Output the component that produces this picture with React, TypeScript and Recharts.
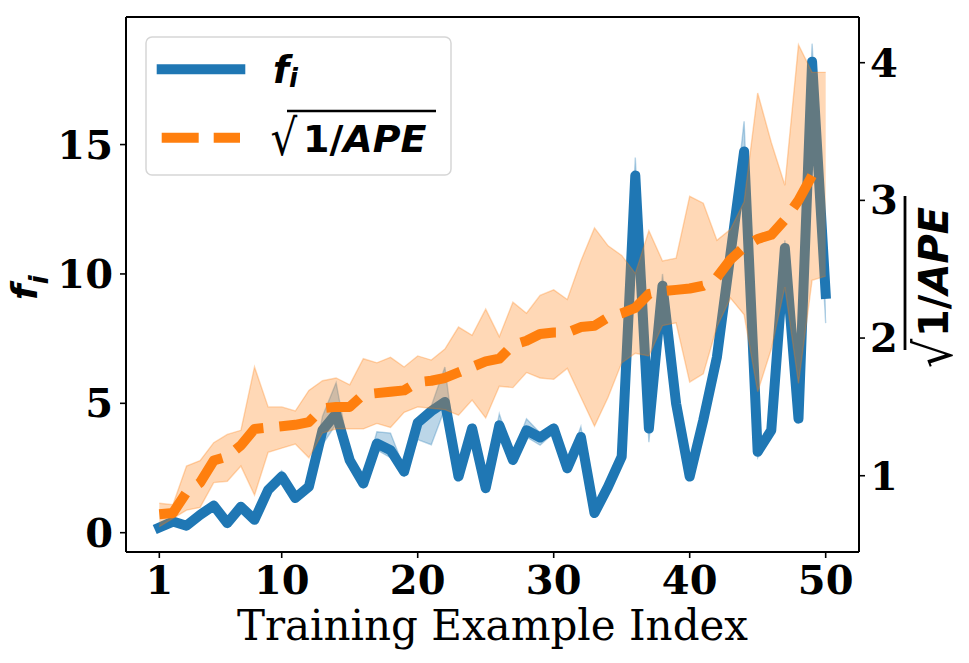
import React from 'react';
import { ComposedChart, Line, Area, XAxis, YAxis, Legend } from 'recharts';

// training example index (1..50)
const INDEX = [
  1, 2, 3, 4, 5, 6, 7, 8, 9, 10, 11, 12, 13, 14, 15, 16, 17, 18, 19, 20, 21, 22, 23, 24, 25,
  26, 27, 28, 29, 30, 31, 32, 33, 34, 35, 36, 37, 38, 39, 40, 41, 42, 43, 44, 45, 46, 47, 48, 49, 50,
];

// f_i mean and spread (left axis)
const FI = [
  0.2, 0.43, 0.27, 0.69, 1.05, 0.37, 1.0, 0.5, 1.65, 2.17, 1.34, 1.78, 3.96, 4.6, 2.8, 1.9, 3.45, 3.19, 2.36, 4.25,
  4.7, 5.05, 2.17, 4.03, 1.72, 4.15, 2.81, 3.96, 3.68, 4.03, 2.49, 3.7, 0.76, 1.78, 2.94, 13.8, 4.03, 9.54, 4.99, 2.17,
  4.35, 6.78, 10.77, 14.73, 3.13, 3.96, 11.0, 4.41, 18.2, 9.23,
];
const FI_LOW = [
  0.18, 0.35, 0.2, 0.6, 0.95, 0.3, 0.9, 0.4, 1.5, 2.0, 1.2, 1.65, 3.4, 4.2, 2.6, 1.75, 3.2, 2.9, 2.2, 3.6,
  3.4, 4.8, 2.0, 3.8, 1.6, 3.95, 2.65, 3.7, 3.38, 3.85, 2.35, 3.5, 0.65, 1.65, 2.8, 13.2, 3.5, 9.2, 4.8, 2.0,
  4.2, 6.6, 10.5, 14.2, 2.9, 3.8, 10.7, 4.2, 17.6, 8.1,
];
const FI_HIGH = [
  0.3, 0.5, 0.35, 0.78, 1.15, 0.45, 1.1, 0.6, 1.8, 2.4, 1.45, 1.9, 4.5, 5.8, 3.0, 2.05, 3.9, 3.85, 2.5, 4.4,
  4.9, 6.4, 2.35, 4.2, 1.85, 4.6, 3.0, 4.4, 3.85, 4.2, 2.65, 4.1, 0.9, 1.9, 3.1, 14.5, 4.3, 10.0, 5.2, 2.35,
  4.5, 7.0, 11.1, 15.9, 3.35, 4.2, 11.3, 4.6, 18.9, 9.6,
];

// sqrt(1/APE) mean and spread (right axis)
const APE = [
  0.72, 0.73, 0.88, 0.95, 1.11, 1.14, 1.22, 1.34, 1.35, 1.36, 1.37, 1.39, 1.49, 1.5, 1.5, 1.59, 1.6, 1.61, 1.62, 1.68,
  1.69, 1.71, 1.75, 1.79, 1.83, 1.85, 1.95, 1.98, 2.03, 2.04, 2.04, 2.08, 2.09, 2.15, 2.18, 2.22, 2.32, 2.34, 2.35, 2.36,
  2.38, 2.44, 2.57, 2.66, 2.72, 2.75, 2.86, 3.0, 3.18, 3.2,
];
const APE_LOW = [
  0.63, 0.69, 0.75, 0.77, 0.95, 0.96, 1.07, 0.86, 1.17, 1.2, 1.23, 1.13, 1.31, 1.34, 1.34, 1.34, 1.38, 1.35, 1.46, 1.5,
  1.49, 1.48, 1.44, 1.55, 1.42, 1.65, 1.64, 1.75, 1.71, 1.7, 1.78, 1.57, 1.36, 1.57, 1.82, 1.89, 1.87, 2.09, 2.11, 1.68,
  1.74, 2.08, 2.29, 2.17, 1.61, 1.92, 2.37, 1.67, 2.42, 2.45,
];
const APE_HIGH = [
  0.8, 0.79, 1.07, 1.11, 1.24, 1.3, 1.33, 1.79, 1.5, 1.5, 1.47, 1.62, 1.69, 1.71, 1.66, 1.85, 1.82, 1.86, 1.79, 1.87,
  1.84, 1.92, 2.08, 2.02, 2.21, 2.01, 2.26, 2.18, 2.31, 2.35, 2.28, 2.56, 2.8, 2.67, 2.6, 2.47, 2.78, 2.56, 2.58, 3.03,
  2.98, 2.71, 2.79, 2.99, 3.78, 3.42, 3.11, 4.13, 3.93, 3.93,
];

const X_TICKS = [1, 10, 20, 30, 40, 50];
const FI_TICKS = [0, 5, 10, 15];
const APE_TICKS = [1, 2, 3, 4];

const BLUE = '#1f77b4';
const ORANGE = '#ff7f0e';
const TICK_FONT = { fontFamily: 'DejaVu Serif', fontWeight: 'bold' as const, fontSize: 40, fill: '#000' };

const XTick = (props: any) => (
  <text x={props.x} y={props.y + 34} textAnchor="middle" {...TICK_FONT}>{props.payload.value}</text>
);
const LeftTick = (props: any) => (
  <text x={props.x - 5} y={props.y + 14} textAnchor="end" {...TICK_FONT}>{props.payload.value}</text>
);
const RightTick = (props: any) => (
  <text x={props.x + 3} y={props.y + 14} textAnchor="start" {...TICK_FONT}>{props.payload.value}</text>
);

const mathFont = { fontFamily: 'DejaVu Sans', fontWeight: 'bold' as const, fontStyle: 'italic' as const, fill: '#000' };

// mathtext-like "1/APE": digits and slash upright, letters italic
const ApeText = ({ x, y, size, anchor }: { x: number; y: number; size: number; anchor?: 'start' | 'middle' }) => (
  <text x={x} y={y} textAnchor={anchor || 'start'} fontSize={size} {...mathFont}>
    <tspan fontStyle="normal">1/</tspan>APE
  </text>
);

const FiTitle = () => (
  <g transform="translate(37, 285) rotate(-90)">
    <text x={-15} y={0} fontSize={36} {...mathFont}>
      f<tspan fontSize={26} dy={11}>i</tspan>
    </text>
  </g>
);

const ApeTitle = () => (
  <g transform="translate(948, 272) rotate(-90)">
    <text transform="translate(-96, 4) scale(1, 1.12)" x={0} y={0} fontFamily="DejaVu Sans" fontSize={46} fill="#000">√</text>
    <line x1={-78} x2={76} y1={-43} y2={-43} stroke="#000" strokeWidth={2.8} />
    <ApeText x={0} y={0} size={40} anchor="middle" />
  </g>
);

const XTitle = () => (
  <text x={492.5} y={640} textAnchor="middle" fontFamily="DejaVu Serif" fontSize={42} fill="#000">
    Training Example Index
  </text>
);

const LegendBox = () => (
  <svg width={308} height={141} style={{ display: 'block' }}>
    <rect x={1} y={1} width={305} height={138} rx={6} fill="#fff" fillOpacity={0.8} stroke="#d6d6d6" strokeWidth={1.5} />
    <line x1={11.7} x2={100.3} y1={33.3} y2={33.3} stroke={BLUE} strokeWidth={10} />
    <text x={128} y={47.3} fontSize={37} {...mathFont}>
      f<tspan fontSize={26} dy={4}>i</tspan>
    </text>
    <line x1={16.7} x2={95} y1={101.7} y2={101.7} stroke={ORANGE} strokeWidth={10} strokeDasharray="37 15" />
    <text transform="translate(125.5, 119) scale(1, 1.18)" x={0} y={0} fontFamily="DejaVu Sans" fontSize={42} fill="#000">√</text>
    <line x1={142} x2={291} y1={75} y2={75} stroke="#000" strokeWidth={2.6} />
    <ApeText x={158} y={115.7} size={38} />
  </svg>
);

const data = INDEX.map((idx, i) => ({
  idx,
  fi: FI[i],
  fiBand: [FI_LOW[i], FI_HIGH[i]],
  ape: APE[i],
  apeBand: [APE_LOW[i], APE_HIGH[i]],
}));

const spine = { stroke: '#000', strokeWidth: 2 };
const tickLine = { stroke: '#000', strokeWidth: 1.6 };

export default function App() {
  return (
    <div style={{ position: 'absolute', left: 0, top: 0, width: 969, height: 663, background: '#fff' }}>
      <ComposedChart width={969} height={663} data={data} margin={{ top: 16, right: 0, bottom: 0, left: 0 }}>
        <XAxis
          xAxisId="x"
          dataKey="idx"
          type="number"
          domain={[-1.45, 52.45]}
          allowDataOverflow
          ticks={X_TICKS}
          interval={0}
          height={111}
          tickSize={6}
          axisLine={spine}
          tickLine={tickLine}
          tick={<XTick />}
          label={{ content: () => <XTitle /> }}
        />
        <XAxis
          xAxisId="top"
          orientation="top"
          dataKey="idx"
          type="number"
          domain={[-1.45, 52.45]}
          allowDataOverflow
          height={1}
          tick={false}
          tickLine={false}
          axisLine={spine}
        />
        <YAxis
          yAxisId="fi"
          type="number"
          domain={[-0.746, 19.93]}
          allowDataOverflow
          ticks={FI_TICKS}
          interval={0}
          width={126}
          tickSize={6}
          axisLine={spine}
          tickLine={tickLine}
          tick={<LeftTick />}
          label={{ content: () => <FiTitle /> }}
        />
        <YAxis
          yAxisId="ape"
          orientation="right"
          type="number"
          domain={[0.446, 4.332]}
          allowDataOverflow
          ticks={APE_TICKS}
          interval={0}
          width={110}
          tickSize={6}
          axisLine={spine}
          tickLine={tickLine}
          tick={<RightTick />}
          label={{ content: () => <ApeTitle /> }}
        />
        <Area
          xAxisId="x"
          yAxisId="fi"
          dataKey="fiBand"
          type="linear"
          fill={BLUE}
          fillOpacity={0.3}
          stroke={BLUE}
          strokeOpacity={0.3}
          strokeWidth={1.4}
          isAnimationActive={false}
          zIndex={100}
        />
        <Line
          xAxisId="x"
          yAxisId="fi"
          dataKey="fi"
          type="linear"
          stroke={BLUE}
          strokeWidth={10}
          strokeLinejoin="round"
          strokeLinecap="square"
          dot={false}
          activeDot={false}
          isAnimationActive={false}
          zIndex={200}
        />
        <Area
          xAxisId="x"
          yAxisId="ape"
          dataKey="apeBand"
          type="linear"
          fill={ORANGE}
          fillOpacity={0.3}
          stroke={ORANGE}
          strokeOpacity={0.3}
          strokeWidth={1.4}
          isAnimationActive={false}
          zIndex={300}
        />
        <Line
          xAxisId="x"
          yAxisId="ape"
          dataKey="ape"
          type="linear"
          stroke={ORANGE}
          strokeWidth={10}
          strokeDasharray="37 16"
          strokeLinejoin="round"
          dot={false}
          activeDot={false}
          isAnimationActive={false}
          zIndex={400}
        />
        <Legend
          layout="vertical"
          align="center"
          verticalAlign="middle"
          content={() => <LegendBox />}
          wrapperStyle={{ left: 145, top: 36, width: 308, height: 141 }}
        />
      </ComposedChart>
    </div>
  );
}
